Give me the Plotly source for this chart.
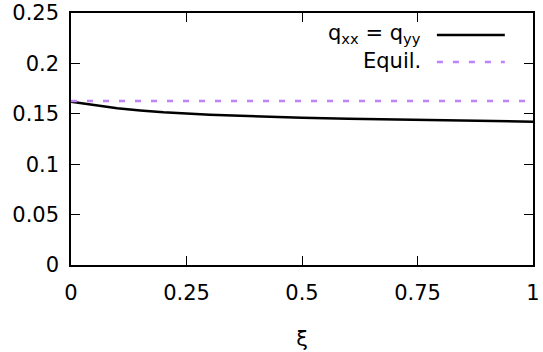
import plotly.graph_objects as go

xi = [0, 0.05, 0.1, 0.15, 0.2, 0.3, 0.4, 0.5, 0.6, 0.7, 0.8, 0.9, 1.0]
q_xx = [0.162, 0.1585, 0.1556, 0.1533, 0.1515, 0.149, 0.1473, 0.146, 0.1450, 0.1442, 0.1435, 0.1428, 0.1422]
equil_x = [0, 1]
equil_y = [0.1627, 0.1627]

x_ticks = [0, 0.25, 0.5, 0.75, 1]
x_labels = ["0", "0.25", "0.5", "0.75", "1"]
y_ticks = [0, 0.05, 0.1, 0.15, 0.2, 0.25]
y_labels = ["0", "0.05", "0.1", "0.15", "0.2", "0.25"]

FONT = "DejaVu Sans"
FS = 21

fig = go.Figure()
fig.add_trace(go.Scatter(x=xi, y=q_xx, mode="lines", line=dict(color="black", width=2.5),
                         showlegend=False))
fig.add_trace(go.Scatter(x=equil_x, y=equil_y, mode="lines",
                         line=dict(color="#c080ff", width=2.5, dash="6px,10px"),
                         showlegend=False))

# gnuplot-style legend: text on the left, sample on the right
legend_items = [
    ("q<sub>xx</sub> = q<sub>yy</sub>", dict(color="black", width=2.5), 0.915, 0.913),
    ("Equil.", dict(color="#c080ff", width=2.5, dash="6px,10px"), 0.808, 0.806),
]
for text, ln, ty, ly in legend_items:
    fig.add_annotation(x=0.762, y=ty, xref="paper", yref="paper", text=text,
                       showarrow=False, xanchor="right", yanchor="middle",
                       font=dict(family=FONT, size=FS, color="black"))
    fig.add_shape(type="line", xref="paper", yref="paper", x0=0.792, x1=0.939,
                  y0=ly, y1=ly, line=ln)

axis_common = dict(showgrid=False, zeroline=False, ticks="inside", ticklen=9,
                   tickwidth=1, tickcolor="black", mirror="ticks", showline=True,
                   linecolor="black", linewidth=1.5, automargin=False,
                   tickfont=dict(family=FONT, size=FS, color="black"))

fig.update_layout(
    width=543, height=352,
    margin=dict(l=71, r=10, t=13, b=87),
    plot_bgcolor="white", paper_bgcolor="white",
    xaxis=dict(range=[0, 1], tickvals=x_ticks, ticktext=x_labels, ticklabelstandoff=8,
               title=dict(text="ξ", font=dict(family=FONT, size=FS, color="black"), standoff=27),
               **axis_common),
    yaxis=dict(range=[0, 0.25], tickvals=y_ticks, ticktext=y_labels, ticklabelstandoff=6,
               **axis_common),
)

fig.write_html("out.html")
